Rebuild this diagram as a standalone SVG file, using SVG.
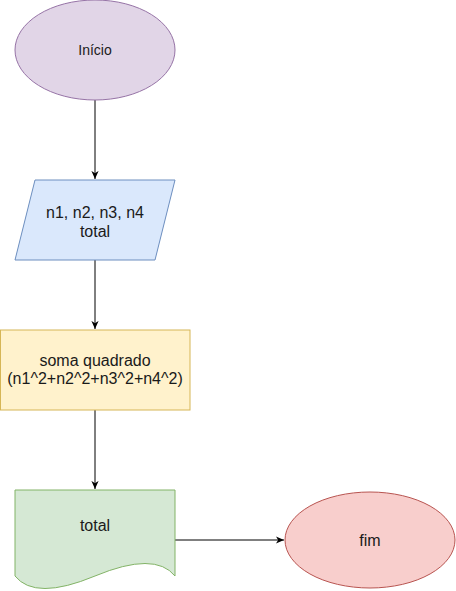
<svg xmlns="http://www.w3.org/2000/svg" width="456" height="591" viewBox="0 0 456 591">
<style>
text{font-family:"Liberation Sans",Arial,sans-serif;font-size:16px;fill:#1a1a1a;text-anchor:middle}
.edge{stroke:#000;stroke-width:1;fill:none}
</style>
<defs>
<marker id="arr" viewBox="0 0 10 10" refX="9" refY="5" markerWidth="9" markerHeight="9" markerUnits="userSpaceOnUse" orient="auto">
<path d="M0,1 L9,5 L0,9 L2.5,5 Z" fill="#000"/>
</marker>
</defs>
<rect width="456" height="591" fill="#fff"/>
<g id="connectors">
<path class="edge" d="M95,100 V179" marker-end="url(#arr)"/>
<path class="edge" d="M95,260 V329" marker-end="url(#arr)"/>
<path class="edge" d="M95,410 V489" marker-end="url(#arr)"/>
<path class="edge" d="M175,540 H284" marker-end="url(#arr)"/>
</g>
<g id="inicio">
<ellipse cx="95" cy="50" rx="80" ry="50" fill="#e1d5e7" stroke="#9673a6"/>
<text x="95" y="55" style="font-size:14px">Início</text>
</g>
<g id="entrada">
<path d="M35,180 H175 L155,260 H15 Z" fill="#dae8fc" stroke="#6c8ebf"/>
<text x="95" y="218">n1, n2, n3, n4</text>
<text x="95" y="237">total</text>
</g>
<g id="processo">
<rect x="0.5" y="330" width="189.5" height="80" fill="#fff2cc" stroke="#d6b656"/>
<text x="95" y="366">soma quadrado</text>
<text x="95" y="384">(n1^2+n2^2+n3^2+n4^2)</text>
</g>
<g id="saida">
<path d="M15,490 H175 V576 Q155,551 95,576 Q35,601 15,576 Z" fill="#d5e8d4" stroke="#82b366"/>
<text x="95" y="531">total</text>
</g>
<g id="fim">
<ellipse cx="370" cy="540" rx="85" ry="48" fill="#f8cecc" stroke="#b85450"/>
<text x="370" y="546">fim</text>
</g>
</svg>
